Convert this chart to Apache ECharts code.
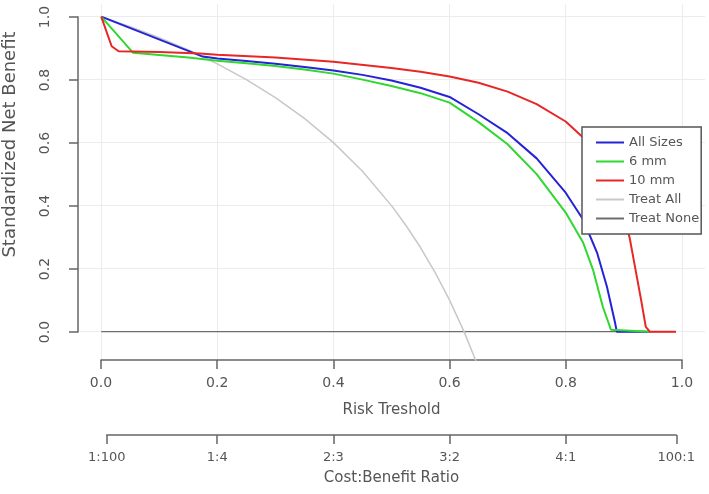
<!DOCTYPE html>
<html>
<head>
<meta charset="utf-8">
<script src="https://cdn.jsdelivr.net/npm/echarts@6/dist/echarts.min.js"></script>
<style>
  html, body { margin: 0; background: #fff; }
  #chart { width: 709px; height: 494px; }
</style>
</head>
<body>
<div id="chart"></div>
<script>
// curves: [risk threshold, standardized net benefit]
const allSizes = [[0,1],[0.175,0.873],[0.2,0.867],[0.25,0.859],[0.3,0.85],[0.35,0.84],[0.4,0.829],[0.45,0.815],[0.5,0.797],[0.55,0.774],[0.6,0.745],[0.65,0.69],[0.7,0.63],[0.75,0.55],[0.8,0.441],[0.83,0.356],[0.854,0.251],[0.871,0.143],[0.885,0.029],[0.888,0],[0.945,0]]
const mm6 = [[0,1],[0.055,0.885],[0.1,0.878],[0.15,0.87],[0.2,0.86],[0.25,0.852],[0.3,0.843],[0.35,0.832],[0.4,0.819],[0.45,0.8],[0.5,0.78],[0.55,0.757],[0.6,0.727],[0.65,0.665],[0.7,0.595],[0.75,0.5],[0.8,0.378],[0.83,0.283],[0.847,0.197],[0.864,0.079],[0.878,0.006],[0.88,0],[0.945,0]]
const mm10 = [[0,1],[0.018,0.906],[0.03,0.89],[0.1,0.888],[0.17,0.883],[0.2,0.879],[0.3,0.87],[0.4,0.857],[0.5,0.837],[0.55,0.825],[0.6,0.81],[0.65,0.79],[0.7,0.762],[0.75,0.722],[0.8,0.667],[0.83,0.616],[0.86,0.54],[0.88,0.465],[0.9,0.36],[0.91,0.3],[0.92,0.2],[0.93,0.1],[0.938,0.015],[0.945,0],[0.99,0]]
const treatAll = [[0,1],[0.05,0.968],[0.1,0.933],[0.15,0.894],[0.2,0.85],[0.25,0.8],[0.3,0.743],[0.35,0.677],[0.4,0.6],[0.45,0.509],[0.5,0.4],[0.525,0.337],[0.55,0.267],[0.575,0.188],[0.6,0.1],[0.625,0],[0.65,-0.114]]
const treatNone = [[0,0],[0.99,0]]

const riskTicks = [0, 0.2, 0.4, 0.6, 0.8, 1.0]
const costTicks = [1/101, 0.2, 0.4, 0.6, 0.8, 100/101]
const costLabels = ['1:100', '1:4', '2:3', '3:2', '4:1', '100:1']

const font = 'DejaVu Sans'
const txt = '#555'
const axisGrey = '#666'
const gridGrey = '#ececec'

function lineSeries(name, data, color, width, z) {
  return {
    type: 'line', name: name, data: data,
    xAxisIndex: 0, yAxisIndex: 0,
    symbol: 'none', smooth: false,
    lineStyle: { color: color, width: width },
    itemStyle: { color: color },
    emphasis: { disabled: true },
    z: z
  }
}

const axisCommon = {
  type: 'value',
  axisLine: { show: true, onZero: false, lineStyle: { color: axisGrey, width: 1.5 } },
  axisTick: { show: true, length: 9, lineStyle: { color: axisGrey, width: 1.5 } },
  splitLine: { show: false },
  nameTextStyle: { color: txt, fontSize: 15, fontFamily: font }
}

const option = {
  animation: false,
  textStyle: { fontFamily: font },
  grid: [
    { left: 78, right: 4, top: 4, bottom: 134, outerBoundsMode: 'none' },           // plotting area
    { left: 101, right: 27, top: 17, bottom: 162, outerBoundsMode: 'none' },        // 0..1 box for the axes
    { left: 106.75, right: 32.75, top: 17, bottom: 162, outerBoundsMode: 'none' }   // cost:benefit axis
  ],
  xAxis: [
    {
      gridIndex: 0, type: 'value', min: -0.04, max: 1.04,
      axisLine: { show: false }, axisLabel: { show: false },
      axisTick: { show: false, customValues: riskTicks },
      splitLine: { show: true, lineStyle: { color: gridGrey, width: 1 } }
    },
    Object.assign({}, axisCommon, {
      gridIndex: 1, min: 0, max: 1, interval: 0.2, position: 'bottom', offset: 28,
      axisLabel: { margin: 16, color: txt, fontSize: 14, formatter: v => v.toFixed(1) },
      name: 'Risk Treshold', nameLocation: 'middle', nameGap: 43
    }),
    Object.assign({}, axisCommon, {
      gridIndex: 2, min: costTicks[0], max: costTicks[5], position: 'bottom', offset: 103,
      axisTick: { show: true, length: 9, customValues: costTicks, lineStyle: { color: axisGrey, width: 1.5 } },
      axisLabel: {
        margin: 16, color: txt, fontSize: 13, customValues: costTicks,
        formatter: v => {
          let best = 0
          costTicks.forEach((t, i) => { if (Math.abs(t - v) < Math.abs(costTicks[best] - v)) best = i })
          return costLabels[best]
        }
      },
      name: 'Cost:Benefit Ratio', nameLocation: 'middle', nameGap: 36
    })
  ],
  yAxis: [
    {
      gridIndex: 0, type: 'value', min: -0.09, max: 1.04,
      axisLine: { show: false }, axisLabel: { show: false },
      axisTick: { show: false, customValues: riskTicks },
      splitLine: { show: true, lineStyle: { color: gridGrey, width: 1 } }
    },
    Object.assign({}, axisCommon, {
      gridIndex: 1, min: 0, max: 1, interval: 0.2, position: 'left', offset: 23,
      axisLabel: { margin: 26, rotate: 90, color: txt, fontSize: 14, formatter: v => v.toFixed(1) },
      name: 'Standardized Net Benefit', nameLocation: 'middle', nameGap: 59,
      // the title sits a bit above the middle of the axis
      nameTextStyle: { color: txt, fontSize: 18, fontFamily: font, padding: [0, 0, 0, 60] }
    }),
    {
      gridIndex: 2, type: 'value', min: 0, max: 1, show: false
    }
  ],
  legend: {
    orient: 'vertical', left: 582, top: 127,
    padding: [8, 2, 8, 14], itemWidth: 28, itemHeight: 2, itemGap: 4,
    icon: 'rect',
    backgroundColor: '#fff', borderColor: '#555', borderWidth: 1.5,
    textStyle: { fontSize: 13, color: txt, fontFamily: font, lineHeight: 15 },
    data: ['All Sizes', '6 mm', '10 mm', 'Treat All', 'Treat None']
  },
  series: [
    lineSeries('Treat None', treatNone, '#6e6e6e', 1.2, 2),
    lineSeries('Treat All', treatAll, '#c8c8c8', 1.5, 2),
    lineSeries('All Sizes', allSizes, '#2424d6', 2, 3),
    lineSeries('6 mm', mm6, '#2fd82f', 2, 3),
    lineSeries('10 mm', mm10, '#e82626', 2, 3)
  ]
}

const chart = echarts.init(document.getElementById('chart'))
chart.setOption(option)
</script>
</body>
</html>
